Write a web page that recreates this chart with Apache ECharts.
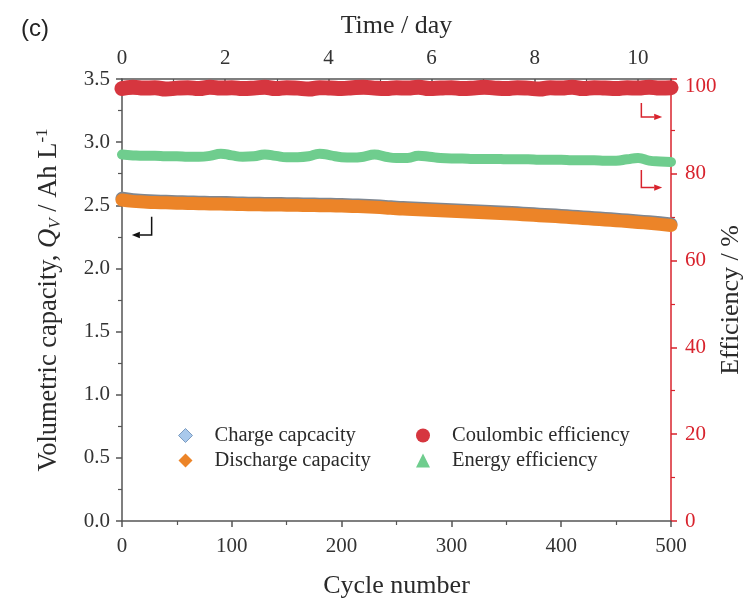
<!DOCTYPE html>
<html>
<head>
<meta charset="utf-8">
<title>Cycling performance</title>
<script src="https://cdn.jsdelivr.net/npm/echarts@6/dist/echarts.min.js"></script>
<style>
  html, body { margin: 0; padding: 0; background: #fff; }
  #chart { width: 748px; height: 599px; position: relative; }
  #tag { position: absolute; left: 21px; top: 14px; font: 24px "Liberation Sans", Arial, sans-serif; color: #222; }
</style>
</head>
<body>
<div id="chart"></div>
<div id="tag">(c)</div>
<script>
// cycle number, every 10 cycles
const cycles = [
  0, 10, 20, 30, 40, 50, 60, 70, 80, 90,
  100, 110, 120, 130, 140, 150, 160, 170, 180, 190,
  200, 210, 220, 230, 240, 250, 260, 270, 280, 290,
  300, 310, 320, 330, 340, 350, 360, 370, 380, 390,
  400, 410, 420, 430, 440, 450, 460, 470, 480, 490, 500
];

// volumetric capacity, Ah/L (left axis)
const chargeCap = [
  2.556, 2.544, 2.538, 2.534, 2.532, 2.529, 2.527, 2.525, 2.523, 2.522,
  2.520, 2.518, 2.516, 2.515, 2.514, 2.513, 2.512, 2.510, 2.509, 2.508,
  2.506, 2.503, 2.500, 2.496, 2.491, 2.485, 2.481, 2.477, 2.473, 2.469,
  2.465, 2.461, 2.457, 2.453, 2.448, 2.444, 2.440, 2.435, 2.430, 2.425,
  2.420, 2.414, 2.408, 2.402, 2.396, 2.390, 2.383, 2.376, 2.369, 2.361, 2.352
];
const dischargeCap = [
  2.542, 2.531, 2.526, 2.522, 2.520, 2.517, 2.515, 2.513, 2.511, 2.510,
  2.508, 2.506, 2.504, 2.503, 2.502, 2.501, 2.500, 2.498, 2.497, 2.496,
  2.494, 2.491, 2.488, 2.484, 2.479, 2.473, 2.469, 2.465, 2.461, 2.457,
  2.453, 2.449, 2.445, 2.441, 2.436, 2.432, 2.428, 2.423, 2.418, 2.413,
  2.408, 2.402, 2.396, 2.390, 2.384, 2.378, 2.371, 2.364, 2.357, 2.349, 2.340
];

// efficiencies, % (right axis)
const coulombicEff = [
  99.6, 99.9, 99.7, 99.8, 99.5, 99.7, 99.8, 99.6, 99.9, 99.7,
  99.8, 99.6, 99.7, 99.9, 99.6, 99.8, 99.7, 99.5, 99.8, 99.7,
  99.6, 99.8, 99.9, 99.7, 99.6, 99.8, 99.7, 99.9, 99.6, 99.7,
  99.8, 99.6, 99.7, 99.9, 99.7, 99.6, 99.8, 99.7, 99.5, 99.8,
  99.7, 99.9, 99.6, 99.8, 99.7, 99.6, 99.8, 99.7, 99.9, 99.7, 99.8
];
const energyEff = [
  84.4, 84.2, 84.1, 84.1, 84.0, 84.0, 83.9, 83.9, 84.1, 84.6,
  84.2, 83.9, 84.0, 84.4, 84.1, 83.8, 83.8, 84.0, 84.6, 84.2,
  83.8, 83.7, 83.9, 84.4, 83.9, 83.6, 83.6, 84.1, 83.9, 83.6,
  83.5, 83.5, 83.4, 83.4, 83.4, 83.3, 83.3, 83.3, 83.2, 83.2,
  83.2, 83.1, 83.1, 83.1, 83.0, 83.0, 83.3, 83.6, 83.0, 82.8, 82.7
];

const serif = '"Liberation Serif", "Times New Roman", serif';
const ink = '#2a2a2a';
const axisGray = '#555';
const axisRed = '#d8232d';
const cRed = '#d6363f';
const cGreen = '#6fcd8e';
const cOrange = '#ec8428';
const cBlue = '#a9c9ec';

const pairs = (ys) => cycles.map((c, i) => [c, ys[i]]);

function grayAxis(extra) {
  return Object.assign({
    type: 'value',
    nameLocation: 'middle',
    nameMoveOverlap: false,
    nameTextStyle: { fontFamily: serif, fontSize: 26, color: ink },
    axisLine: { show: true, onZero: false, lineStyle: { color: axisGray, width: 1.5 } },
    axisTick: { show: true, length: 6, lineStyle: { color: axisGray, width: 1.5 } },
    minorTick: { show: true, splitNumber: 2, length: 4, lineStyle: { color: axisGray, width: 1.2 } },
    axisLabel: { fontFamily: serif, fontSize: 21, color: '#333', margin: 12 },
    splitLine: { show: false }
  }, extra);
}

function band(name, data, color, width, yAxisIndex, z) {
  return {
    name, type: 'line', data: pairs(data),
    xAxisIndex: 0, yAxisIndex,
    smooth: true, showSymbol: false, clip: false, z,
    lineStyle: { color, width, cap: 'round', join: 'round' },
    itemStyle: { color }
  };
}

const legendText = { fontFamily: serif, fontSize: 20.5, color: ink, padding: [0, 0, 0, 17] };

const chart = echarts.init(document.getElementById('chart'));
chart.setOption({
  animation: false,
  grid: { left: 122, right: 77, top: 79, bottom: 78, outerBoundsMode: 'none' },
  legend: [
    {
      left: 173, top: 420, orient: 'vertical', itemGap: 4,
      itemWidth: 14, itemHeight: 14, textStyle: legendText,
      data: [
        { name: 'Charge capcacity', icon: 'diamond', itemStyle: { color: cBlue, borderColor: '#7d9cc0', borderWidth: 1 } },
        { name: 'Discharge capacity', icon: 'diamond', itemStyle: { color: cOrange } }
      ]
    },
    {
      left: 411, top: 420, orient: 'vertical', itemGap: 4,
      itemWidth: 14, itemHeight: 14, textStyle: legendText,
      data: [
        { name: 'Coulombic efficiency', icon: 'circle', itemStyle: { color: cRed } },
        { name: 'Energy efficiency', icon: 'triangle', itemStyle: { color: cGreen } }
      ]
    }
  ],
  xAxis: [
    grayAxis({
      position: 'bottom', min: 0, max: 500, interval: 100,
      name: 'Cycle number', nameGap: 52,
      axisLabel: { fontFamily: serif, fontSize: 21, color: '#333', margin: 15 }
    }),
    grayAxis({
      position: 'top', min: 0, max: 10.64, interval: 2,
      name: 'Time / day', nameGap: 40,
      axisTick: { show: true, inside: true, length: 6, lineStyle: { color: axisGray, width: 1.5 } },
      axisLabel: {
        fontFamily: serif, fontSize: 21, color: '#333', margin: 10,
        formatter: (v) => (Math.abs(v % 2) < 1e-6 ? String(v) : '')
      }
    })
  ],
  yAxis: [
    grayAxis({
      position: 'left', min: 0, max: 3.5, interval: 0.5,
      name: 'Volumetric capacity, {q|Q}{v|V} / Ah L{s|-1}', nameGap: 58,
      nameTextStyle: {
        fontFamily: serif, fontSize: 26.5, color: ink, lineHeight: 30,
        rich: {
          q: { fontFamily: serif, fontSize: 26.5, fontStyle: 'italic', color: ink, lineHeight: 30 },
          v: { fontFamily: serif, fontSize: 17, fontStyle: 'italic', color: ink, lineHeight: 30, verticalAlign: 'bottom' },
          s: { fontFamily: serif, fontSize: 17, color: ink, lineHeight: 30, verticalAlign: 'top' }
        }
      },
      axisLabel: {
        fontFamily: serif, fontSize: 21, color: '#333', margin: 12,
        formatter: (v) => v.toFixed(1)
      }
    }),
    {
      type: 'value', position: 'right', min: 0, max: 101.8, interval: 20,
      name: 'Efficiency / %', nameLocation: 'middle', nameGap: 47, nameRotate: 90,
      nameMoveOverlap: false,
      nameTextStyle: { fontFamily: serif, fontSize: 26, color: ink },
      axisLine: { show: true, onZero: false, lineStyle: { color: axisRed, width: 1.5 } },
      axisTick: { show: true, length: 6, lineStyle: { color: axisRed, width: 1.5 } },
      minorTick: { show: true, splitNumber: 2, length: 4, lineStyle: { color: axisRed, width: 1.2 } },
      axisLabel: {
        fontFamily: serif, fontSize: 21, color: axisRed, margin: 14,
        formatter: (v) => (Math.abs(v % 20) < 1e-6 ? String(v) : '')
      },
      splitLine: { show: false }
    }
  ],
  series: [
    band('Coulombic efficiency', coulombicEff, cRed, 15, 1, 2),
    band('Energy efficiency', energyEff, cGreen, 10, 1, 2),
    band('Charge capcacity', chargeCap, '#7f8791', 13, 0, 3),
    band('Discharge capacity', dischargeCap, cOrange, 13, 0, 4)
  ]
});

// little direction arrows, placed in data space of the bottom/left axes
function arrowGraphic(pts, color) {
  const px = pts.map((p) => chart.convertToPixel({ gridIndex: 0 }, p));
  const a = px[px.length - 2], b = px[px.length - 1];
  const ang = Math.atan2(b[1] - a[1], b[0] - a[0]);
  const len = 8, half = 3.2;
  const base = [b[0] - len * Math.cos(ang), b[1] - len * Math.sin(ang)];
  const head = [
    b,
    [base[0] + half * Math.sin(ang), base[1] - half * Math.cos(ang)],
    [base[0] - half * Math.sin(ang), base[1] + half * Math.cos(ang)]
  ];
  const line = px.slice(0, -1).concat([base]);
  return [
    { type: 'polyline', shape: { points: line }, style: { stroke: color, lineWidth: 1.5, fill: null }, z: 10 },
    { type: 'polygon', shape: { points: head }, style: { fill: color }, z: 10 }
  ];
}

const arrows = [
  { pts: [[27, 2.41], [27, 2.265], [9, 2.265]], color: '#111' },
  { pts: [[473, 3.31], [473, 3.20], [492, 3.20]], color: axisRed },
  { pts: [[473, 2.78], [473, 2.64], [492, 2.64]], color: axisRed }
];
chart.setOption({
  graphic: arrows.flatMap((a) => arrowGraphic(a.pts, a.color))
});
</script>
</body>
</html>
